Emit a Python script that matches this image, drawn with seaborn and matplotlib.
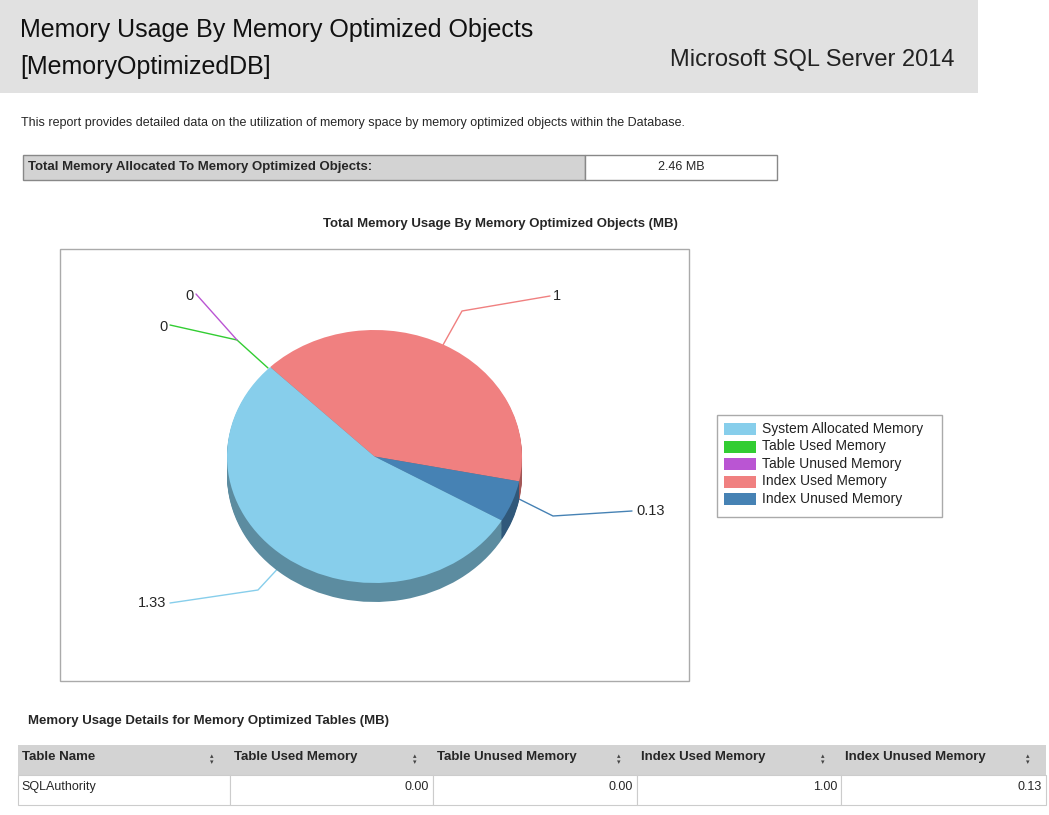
import matplotlib
matplotlib.use("Agg")
import matplotlib.pyplot as plt
from matplotlib.patches import Rectangle
import matplotlib.colors as mcolors
import seaborn as sns

sns.set_theme(style="white")
plt.rcParams["font.family"] = ["Liberation Sans", "DejaVu Sans"]

# ---------------- data ----------------
categories = ["System Allocated Memory", "Table Used Memory", "Table Unused Memory",
              "Index Used Memory", "Index Unused Memory"]
values_mb = [1.33, 0, 0, 1, 0.13]
value_labels = ["1.33", "0", "0", "1", "0.13"]
colors = ["#87CEEB", "#32CD32", "#BA55D3", "#F08080", "#4682B4"]
pie_order = [3, 4, 0, 1, 2]  # drawing order clockwise from start angle
total_label = "2.46 MB"
table_cols = ["Table Name", "Table Used Memory", "Table Unused Memory",
              "Index Used Memory", "Index Unused Memory"]
table_row = ["SQLAuthority", "0.00", "0.00", "1.00", "0.13"]

W, H = 1049, 815
fig = plt.figure(figsize=(W / 100, H / 100), dpi=100)

def fx(x): return x / W
def fy(y): return 1 - y / H

def rect(x0, y0, x1, y1, fc, ec="none", lw=1):
    fig.patches.append(Rectangle((fx(x0), fy(y1)), (x1 - x0) / W, (y1 - y0) / H,
                                 transform=fig.transFigure, fc=fc, ec=ec, lw=lw))

def text(x, y, s, **kw):
    fig.text(fx(x), fy(y), s, **kw)

# header
rect(0, 0, 978, 93, "#E1E1E1")
text(20, 30, "Memory Usage By Memory Optimized Objects", fontsize=18, va="center", color="#111")
text(20, 67, "[MemoryOptimizedDB]", fontsize=18, va="center", color="#111")
text(955, 60, "Microsoft SQL Server 2014", fontsize=17, ha="right", va="center", color="#222")
text(21, 123, "This report provides detailed data on the utilization of memory space by memory optimized objects within the Database.",
     fontsize=9, va="center")

# total box
rect(23, 155, 585, 180, "#D3D3D3", "#888")
rect(585, 155, 777, 180, "white", "#888")
text(28, 167, "Total Memory Allocated To Memory Optimized Objects:", fontsize=9.5, weight="bold", va="center")
text(681, 167, total_label, fontsize=9, ha="center", va="center")

# chart title & frame
text(500, 224, "Total Memory Usage By Memory Optimized Objects (MB)", fontsize=9.5, weight="bold", ha="center", va="center")
rect(60, 249, 689, 681, "white", "#AAAAAA")

# pie axes
cx, cy, rx, ry = 374.5, 456.5, 147.5, 126.5
depth_px = 19
ax = fig.add_axes([fx(cx - rx), fy(cy + ry + depth_px), 2 * rx / W, (2 * ry + depth_px) / H])
ax.set_zorder(5)
ax.patch.set_alpha(0)
ax.axis("off")
vals = [values_mb[i] for i in pie_order]
cols = [colors[i] for i in pie_order]
dark = [tuple(c * 0.68 for c in mcolors.to_rgb(col)) for col in cols]
depth = depth_px / ry
n = 16
for k in range(n + 1):
    off = -depth + depth * k / n
    ax.pie(vals, colors=dark if k < n else cols, startangle=135, counterclock=False,
           radius=1, center=(0, off), wedgeprops=dict(linewidth=0), frame=False)
ax.set_xlim(-1, 1); ax.set_ylim(-1 - depth, 1)
ax.set_aspect("auto")
ax.set_position([fx(cx - rx), fy(cy + ry + depth_px), 2 * rx / W, (2 * ry + depth_px) / H])

def P(px, py): return ((px - cx) / rx, (cy - py) / ry)

leaders = {
    3: [(443, 345), (462, 311), (550, 296)],
    4: [(515, 497), (553, 516), (632, 511)],
    0: [(283, 563), (258, 590), (170, 603)],
    1: [(268, 368), (237, 340), (170, 325)],
    2: [(237, 340), (196, 294)],
}
label_pos = {3: (557, 296, "center"), 4: (636, 511, "left"), 0: (152, 603, "center"),
             1: (163, 327, "center"), 2: (189, 296, "center")}
for i, pts in leaders.items():
    xs, ys = zip(*[P(*p) for p in pts])
    ax.plot(xs, ys, color=colors[i], lw=1, clip_on=False, zorder=0)
    lx, ly, ha = label_pos[i]
    ax.text(*P(lx, ly), value_labels[i], ha=ha, va="center", fontsize=10.5, clip_on=False)

# legend
rect(717, 415, 942, 517, "white", "#AAAAAA")
for j, (c, name) in enumerate(zip(colors, categories)):
    y = 429 + j * 17.5
    rect(724, y - 6, 756, y + 6, c)
    text(762, y, name, fontsize=10, va="center", color="#222")

# bottom table
text(28, 721, "Memory Usage Details for Memory Optimized Tables (MB)", fontsize=9.5, weight="bold", va="center")
xs = [18, 230, 433, 637, 841, 1046]
rect(18, 745, 1046, 775, "#D3D3D3")
for k in range(5):
    x0, x1 = xs[k], xs[k + 1]
    text(x0 + 4, 757, table_cols[k], fontsize=9.5, weight="bold", va="center")
    text(x1 - 18, 760, "\u25B4\n\u25BE", fontsize=5, va="center", ha="center", color="#444", linespacing=0.8)
    rect(x0, 775, x1, 805, "white", "#CCCCCC", 0.8)
    if k == 0:
        text(x0 + 3, 787, table_row[k], fontsize=9, va="center")
    else:
        text(x1 - 4, 787, table_row[k], fontsize=9, va="center", ha="right")

fig.savefig("out.png", dpi=100)
